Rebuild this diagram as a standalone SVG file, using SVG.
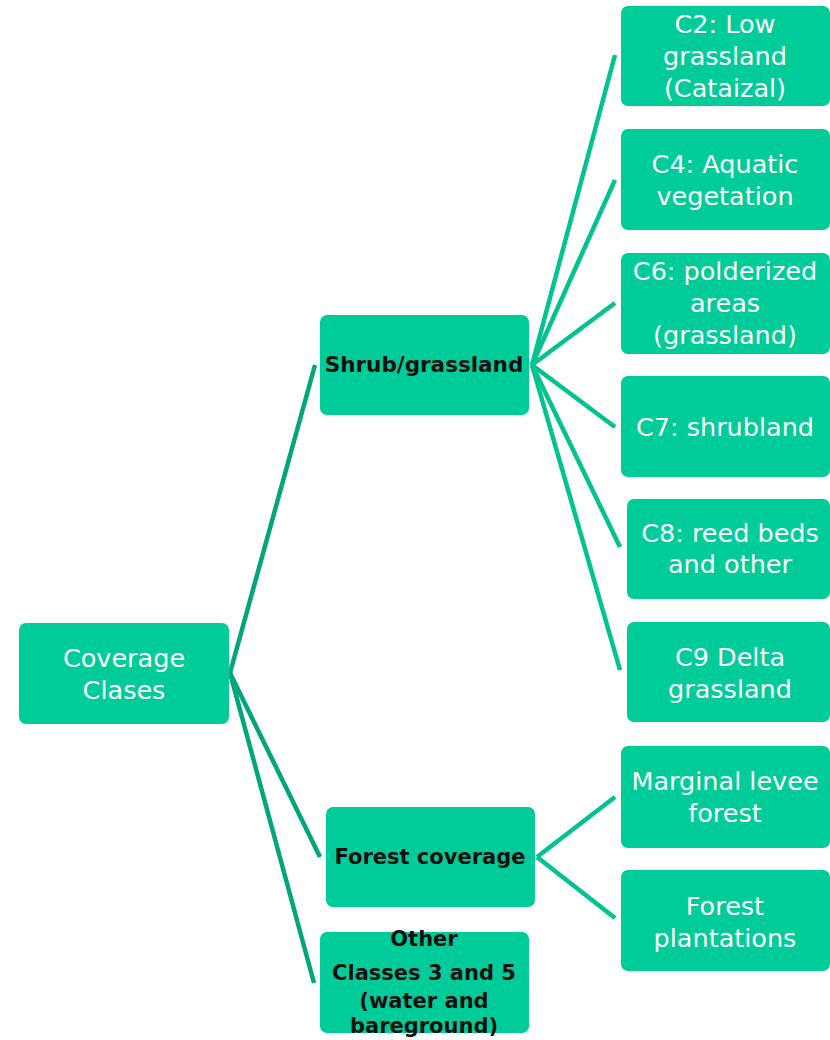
<svg xmlns="http://www.w3.org/2000/svg" width="830" height="1040" viewBox="0 0 830 1040">
<style>
.box{fill:#00CC99;}
.wt{font-family:"DejaVu Sans",Verdana,sans-serif;font-size:25.5px;fill:#ffffff;text-anchor:middle;}
.bt{font-family:"DejaVu Sans",Verdana,sans-serif;font-weight:bold;font-size:21px;fill:#111111;text-anchor:middle;}
.c1{stroke:#00A67A;stroke-width:4.5;fill:none;}
.c2{stroke:#00C391;stroke-width:4.5;fill:none;}
</style>
<rect width="830" height="1040" fill="#ffffff"/>
<g id="connectors">
<line class="c1" x1="230" y1="673" x2="315" y2="365"/>
<line class="c1" x1="230" y1="673" x2="320" y2="857"/>
<line class="c1" x1="230" y1="673" x2="314" y2="983"/>
<line class="c2" x1="532" y1="365" x2="615" y2="55"/>
<line class="c2" x1="532" y1="365" x2="615" y2="180"/>
<line class="c2" x1="532" y1="365" x2="615" y2="303"/>
<line class="c2" x1="532" y1="365" x2="615" y2="427"/>
<line class="c2" x1="532" y1="365" x2="620" y2="547"/>
<line class="c2" x1="532" y1="365" x2="620" y2="670"/>
<line class="c2" x1="537" y1="857" x2="615" y2="797"/>
<line class="c2" x1="537" y1="857" x2="615" y2="918"/>
</g>
<g id="root">
<rect class="box" x="19" y="623" width="210" height="101" rx="7"/>
<text class="wt" x="124" y="667">Coverage</text>
<text class="wt" x="124" y="699">Clases</text>
</g>
<g id="shrub">
<rect class="box" x="320" y="315" width="209" height="100" rx="7"/>
<text class="bt" x="424" y="372" style="font-size:21.5px">Shrub/grassland</text>
</g>
<g id="forest">
<rect class="box" x="326" y="807" width="209" height="100" rx="7"/>
<text class="bt" x="430" y="864">Forest coverage</text>
</g>
<g id="other">
<rect class="box" x="320" y="932" width="209" height="101" rx="7"/>
<text class="bt" x="424" y="946">Other</text>
<text class="bt" x="424" y="980">Classes 3 and 5</text>
<text class="bt" x="424" y="1008">(water and</text>
<text class="bt" x="424" y="1033">bareground)</text>
</g>
<g id="c2">
<rect class="box" x="621" y="6" width="209" height="100" rx="7"/>
<text class="wt" x="725" y="33">C2: Low</text>
<text class="wt" x="725" y="65">grassland</text>
<text class="wt" x="725" y="97">(Cataizal)</text>
</g>
<g id="c4">
<rect class="box" x="621" y="129" width="209" height="101" rx="7"/>
<text class="wt" x="725" y="173">C4: Aquatic</text>
<text class="wt" x="725" y="205">vegetation</text>
</g>
<g id="c6">
<rect class="box" x="621" y="253" width="209" height="101" rx="7"/>
<text class="wt" x="725" y="280">C6: polderized</text>
<text class="wt" x="725" y="312">areas</text>
<text class="wt" x="725" y="344">(grassland)</text>
</g>
<g id="c7">
<rect class="box" x="621" y="376" width="209" height="101" rx="7"/>
<text class="wt" x="725" y="436">C7: shrubland</text>
</g>
<g id="c8">
<rect class="box" x="627" y="499" width="203" height="100" rx="7"/>
<text class="wt" x="730" y="542">C8: reed beds</text>
<text class="wt" x="730" y="573">and other</text>
</g>
<g id="c9">
<rect class="box" x="627" y="622" width="203" height="100" rx="7"/>
<text class="wt" x="730" y="666">C9 Delta</text>
<text class="wt" x="730" y="698">grassland</text>
</g>
<g id="marginal">
<rect class="box" x="621" y="746" width="209" height="102" rx="7"/>
<text class="wt" x="725" y="790">Marginal levee</text>
<text class="wt" x="725" y="822">forest</text>
</g>
<g id="plantations">
<rect class="box" x="621" y="870" width="209" height="101" rx="7"/>
<text class="wt" x="725" y="915">Forest</text>
<text class="wt" x="725" y="947">plantations</text>
</g>
</svg>
